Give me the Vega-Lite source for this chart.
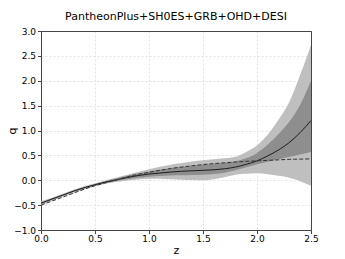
{
  "$schema": "https://vega.github.io/schema/vega-lite/v6.json",
  "autosize": "none",
  "padding": {"left": 41, "top": 31, "right": 34, "bottom": 29},
  "width": 270,
  "height": 199,
  "title": {"text": "PantheonPlus+SH0ES+GRB+OHD+DESI", "font": "DejaVu Sans", "fontSize": 11, "fontWeight": "normal", "color": "#000", "offset": 5},
  "config": {
    "view": {"stroke": "#444", "strokeWidth": 1},
    "axis": {"labelFont": "DejaVu Sans", "titleFont": "DejaVu Sans", "labelFontSize": 9, "titleFontSize": 11, "titleFontWeight": "normal", "labelColor": "#000", "titleColor": "#000", "domainColor": "#444", "tickColor": "#444", "tickSize": 3.5, "gridColor": "#dcdcdc", "gridDash": [2, 2], "gridWidth": 0.8}
  },
  "resolve": {"axis": {"x": "independent", "y": "independent"}},
  "data": {"values": [
    {"z":0.0,"mean":-0.46,"dlo":-0.48,"dhi":-0.44,"llo":-0.50,"lhi":-0.42,"lcdm":-0.50},
    {"z":0.1,"mean":-0.38,"dlo":-0.395,"dhi":-0.365,"llo":-0.41,"lhi":-0.35,"lcdm":-0.42},
    {"z":0.2,"mean":-0.30,"dlo":-0.315,"dhi":-0.285,"llo":-0.33,"lhi":-0.27,"lcdm":-0.34},
    {"z":0.3,"mean":-0.22,"dlo":-0.235,"dhi":-0.205,"llo":-0.25,"lhi":-0.19,"lcdm":-0.26},
    {"z":0.4,"mean":-0.15,"dlo":-0.165,"dhi":-0.135,"llo":-0.18,"lhi":-0.12,"lcdm":-0.18},
    {"z":0.5,"mean":-0.09,"dlo":-0.105,"dhi":-0.075,"llo":-0.12,"lhi":-0.06,"lcdm":-0.11},
    {"z":0.6,"mean":-0.035,"dlo":-0.055,"dhi":-0.015,"llo":-0.07,"lhi":0.0,"lcdm":-0.05},
    {"z":0.7,"mean":0.01,"dlo":-0.015,"dhi":0.035,"llo":-0.035,"lhi":0.055,"lcdm":0.01},
    {"z":0.8,"mean":0.055,"dlo":0.02,"dhi":0.09,"llo":-0.005,"lhi":0.11,"lcdm":0.07},
    {"z":0.9,"mean":0.095,"dlo":0.05,"dhi":0.135,"llo":0.015,"lhi":0.165,"lcdm":0.12},
    {"z":1.0,"mean":0.125,"dlo":0.07,"dhi":0.175,"llo":0.03,"lhi":0.22,"lcdm":0.16},
    {"z":1.1,"mean":0.145,"dlo":0.085,"dhi":0.21,"llo":0.03,"lhi":0.27,"lcdm":0.20},
    {"z":1.2,"mean":0.165,"dlo":0.095,"dhi":0.24,"llo":0.02,"lhi":0.31,"lcdm":0.235},
    {"z":1.3,"mean":0.18,"dlo":0.10,"dhi":0.265,"llo":0.01,"lhi":0.345,"lcdm":0.265},
    {"z":1.4,"mean":0.19,"dlo":0.105,"dhi":0.29,"llo":0.005,"lhi":0.375,"lcdm":0.29},
    {"z":1.5,"mean":0.20,"dlo":0.11,"dhi":0.31,"llo":0.0,"lhi":0.40,"lcdm":0.315},
    {"z":1.6,"mean":0.21,"dlo":0.125,"dhi":0.33,"llo":0.02,"lhi":0.42,"lcdm":0.335},
    {"z":1.7,"mean":0.23,"dlo":0.15,"dhi":0.35,"llo":0.06,"lhi":0.44,"lcdm":0.35},
    {"z":1.8,"mean":0.265,"dlo":0.20,"dhi":0.38,"llo":0.11,"lhi":0.47,"lcdm":0.365},
    {"z":1.9,"mean":0.32,"dlo":0.26,"dhi":0.44,"llo":0.13,"lhi":0.57,"lcdm":0.38},
    {"z":2.0,"mean":0.39,"dlo":0.32,"dhi":0.55,"llo":0.14,"lhi":0.70,"lcdm":0.39},
    {"z":2.1,"mean":0.49,"dlo":0.37,"dhi":0.72,"llo":0.12,"lhi":0.92,"lcdm":0.40},
    {"z":2.2,"mean":0.61,"dlo":0.42,"dhi":0.93,"llo":0.09,"lhi":1.22,"lcdm":0.41},
    {"z":2.3,"mean":0.76,"dlo":0.47,"dhi":1.18,"llo":0.05,"lhi":1.58,"lcdm":0.42},
    {"z":2.4,"mean":0.96,"dlo":0.52,"dhi":1.52,"llo":-0.02,"lhi":2.12,"lcdm":0.425},
    {"z":2.5,"mean":1.20,"dlo":0.57,"dhi":2.00,"llo":-0.11,"lhi":2.72,"lcdm":0.43}
  ]},
  "layer": [
    {"mark": {"type": "area", "color": "#bfbfbf", "interpolate": "monotone"},
      "encoding": {
        "x": {"field": "z", "type": "quantitative", "scale": {"domain": [0, 2.5], "nice": false, "zero": false},
          "axis": {"values": [0, 0.5, 1.0, 1.5, 2.0, 2.5], "format": ".1f", "title": "z", "labelPadding": 1, "titlePadding": 1, "labelFlush": false}},
        "y": {"field": "llo", "type": "quantitative", "scale": {"domain": [-1, 3], "nice": false, "zero": false},
          "axis": {"values": [-1, -0.5, 0, 0.5, 1, 1.5, 2, 2.5, 3], "format": ".1f", "title": "q", "titleX": -24, "labelPadding": 2, "titlePadding": 3, "labelFlush": false}},
        "y2": {"field": "lhi"}}},
    {"mark": {"type": "area", "color": "#8e8e8e", "interpolate": "monotone"},
      "encoding": {"x": {"field": "z", "type": "quantitative", "axis": null}, "y": {"field": "dlo", "type": "quantitative", "axis": null}, "y2": {"field": "dhi"}}},
    {"mark": {"type": "line", "color": "#000", "strokeWidth": 0.8, "interpolate": "monotone"},
      "encoding": {"x": {"field": "z", "type": "quantitative", "axis": null}, "y": {"field": "mean", "type": "quantitative", "axis": null}}},
    {"mark": {"type": "line", "color": "#333", "strokeWidth": 1, "strokeDash": [4, 2], "interpolate": "monotone"},
      "encoding": {"x": {"field": "z", "type": "quantitative", "axis": null}, "y": {"field": "lcdm", "type": "quantitative", "axis": null}}},
    {"mark": {"type": "line", "opacity": 0},
      "encoding": {
        "x": {"field": "z", "type": "quantitative", "axis": {"orient": "top", "labels": false, "ticks": false, "grid": false, "title": null, "domain": true, "zindex": 1}},
        "y": {"field": "mean", "type": "quantitative", "axis": {"orient": "right", "labels": false, "ticks": false, "grid": false, "title": null, "domain": true, "zindex": 1}}}}
  ]
}
